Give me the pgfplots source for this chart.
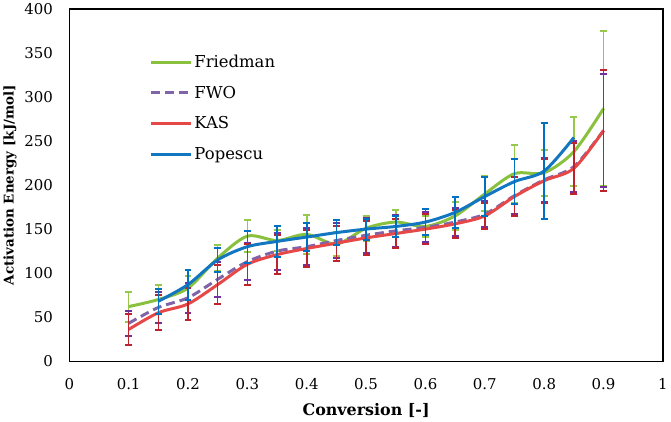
\documentclass[border=0pt]{standalone}
\usepackage{fontspec}
\setmainfont{DejaVu Serif}
\usepackage{pgfplots}
\usepackage{pgfplotstable}
\pgfplotsset{compat=1.18}
\definecolor{fgreen}{RGB}{137,192,62}
\definecolor{fgreenE}{RGB}{150,200,75}
\definecolor{fpurple}{RGB}{128,100,168}
\definecolor{fpurpleE}{RGB}{112,48,160}
\definecolor{fred}{RGB}{230,72,72}
\definecolor{fredE}{RGB}{190,35,45}
\definecolor{fblue}{RGB}{18,118,192}
\definecolor{fblueE}{RGB}{0,112,192}

\pgfplotstableread{
x y e
0.10 62 17
0.15 70 16
0.20 83 14
0.25 117 15
0.30 142 18
0.35 137 12
0.40 144 22
0.45 133 14
0.50 151 14
0.55 158 14
0.60 153 12
0.65 165 16
0.70 190 20
0.75 213 33
0.80 214 26
0.85 238 39
0.90 287 88
}\friedman
\pgfplotstableread{
x y e
0.10 43 14
0.15 61 18
0.20 72 17
0.25 93 20
0.30 113 21
0.35 125 21
0.40 130 21
0.45 137 20
0.50 143 20
0.55 148 18
0.60 152 17
0.65 158 16
0.70 167 15
0.75 188 21
0.80 206 25
0.85 221 29
0.90 262 64
}\fwo
\pgfplotstableread{
x y e
0.10 36 18
0.15 55 20
0.20 65 18
0.25 87 22
0.30 110 23
0.35 121 22
0.40 128 21
0.45 134 20
0.50 140 19
0.55 145 17
0.60 150 17
0.65 156 16
0.70 165 15
0.75 187 22
0.80 205 25
0.85 219 29
0.90 262 69
}\kas
\pgfplotstableread{
x y
0.15 68
0.20 87
0.25 115
0.30 130
0.35 136
0.40 141
0.45 146
0.50 150
0.55 153
0.60 158
0.65 169
0.70 187
0.75 204
0.80 216
0.85 254
}\popescu
\pgfplotstableread{
x y e
0.15 68 14
0.20 87 17
0.25 115 14
0.30 130 18
0.35 136 18
0.40 141 16
0.45 146 14
0.50 150 12
0.55 153 12
0.60 158 15
0.65 169 18
0.70 187 22
0.75 204 26
0.80 216 55
}\popescuE

\begin{document}
\begin{tikzpicture}
\begin{axis}[
  scale only axis,
  width=595bp, height=353bp,
  xmin=0, xmax=1, ymin=0, ymax=400,
  xtick={0,0.1,...,1.0},
  xticklabels={0,0.1,0.2,0.3,0.4,0.5,0.6,0.7,0.8,0.9,1},
  ytick={0,50,...,400},
  major tick length=0pt,
  axis line style={line width=1.1bp},
  tick label style={font=\fontsize{15}{18}\selectfont},
  /pgf/number format/assume math mode=true,
  xticklabel style={yshift=-14bp},
  yticklabel style={xshift=-13bp},
  xlabel={\textbf{Conversion [-]}},
  ylabel={\textbf{Activation Energy [kJ/mol]}},
  xlabel style={font=\fontsize{16}{19}\selectfont, yshift=-7bp},
  ylabel style={font=\fontsize{13.5}{16}\selectfont, yshift=1bp},
  legend style={draw=none, fill=none, at={(0.135,0.875)}, anchor=north west,
    font=\fontsize{16.5}{19}\selectfont, row sep=13bp, inner sep=0pt,
    /tikz/every even column/.append style={column sep=4bp}},
  legend cell align=left,
  legend image code/.code={\draw[#1] (0bp,0bp) -- (40bp,0bp);},
]
\addplot[fgreen, line width=3bp, smooth, tension=0.5,
  error bars/.cd, y dir=both, y explicit,
  error bar style={draw=fgreenE, line width=1.6bp, solid},
  error mark options={draw=fgreenE, line width=2bp, mark size=3.5bp, solid, rotate=90}]
  table[x=x, y=y, y error=e] {\friedman};
\addlegendentry{Friedman}
\addplot[fpurple, line width=3bp, smooth, tension=0.5, dash pattern=on 9bp off 5bp,
  error bars/.cd, y dir=both, y explicit,
  error bar style={draw=fpurpleE, line width=1.6bp, solid},
  error mark options={draw=fpurpleE, line width=2bp, mark size=3.5bp, solid, rotate=90}]
  table[x=x, y=y, y error=e] {\fwo};
\addlegendentry{FWO}
\addplot[fred, line width=3bp, smooth, tension=0.5,
  error bars/.cd, y dir=both, y explicit,
  error bar style={draw=fredE, line width=1.6bp, solid},
  error mark options={draw=fredE, line width=2bp, mark size=3.5bp, solid, rotate=90}]
  table[x=x, y=y, y error=e] {\kas};
\addlegendentry{KAS}
\addplot[fblue, line width=3bp, smooth, tension=0.5]
  table[x=x, y=y] {\popescu};
\addlegendentry{Popescu}
\addplot[fblueE, mark=none, forget plot, line width=0pt, opacity=1, draw opacity=0,
  error bars/.cd, y dir=both, y explicit,
  error bar style={draw=fblueE, draw opacity=1, line width=1.6bp, solid},
  error mark options={draw=fblueE, draw opacity=1, line width=2bp, mark size=3.5bp, solid, rotate=90}]
  table[x=x, y=y, y error=e] {\popescuE};
\end{axis}
\end{tikzpicture}
\end{document}
